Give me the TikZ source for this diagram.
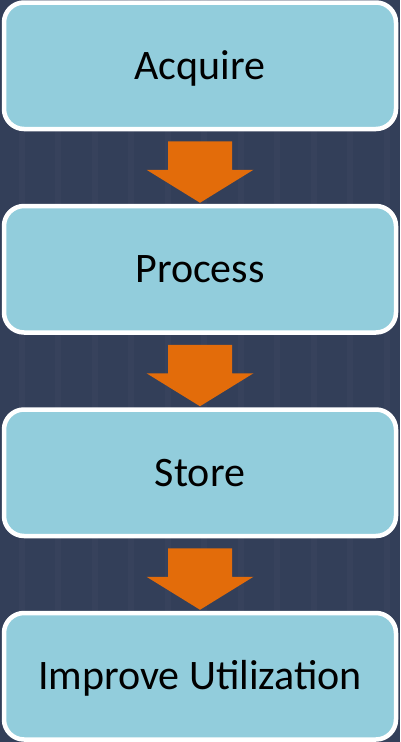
\documentclass[tikz,border=0pt]{standalone}
\usepackage{fontspec}
\setmainfont{Carlito}
\usetikzlibrary{calc}
\definecolor{bgnavy}{HTML}{333F59}
\definecolor{boxblue}{HTML}{92CDDC}
\definecolor{arroworange}{HTML}{E36C0A}
\tikzset{
  stagebox/.style={draw=white, line width=4.5pt, fill=boxblue, rounded corners=20pt,
    minimum width=392pt, minimum height=126.5pt, inner sep=0pt,
    text height=37pt, text depth=10pt,
    font=\fontsize{42}{50}\selectfont, text=black},
  flowarrow/.style={fill=arroworange, draw=none}
}
\begin{document}
\begin{tikzpicture}[x=1pt,y=-1pt]
\fill[bgnavy] (0,0) rectangle (400,742);
\useasboundingbox (0,0) rectangle (400,742);
\foreach \xx in {22,58,95,131,168,204,241,277,314,350,387}{
  \draw[white,opacity=0.018,line width=6pt] (\xx,0) -- (\xx,742);
}
\node[stagebox] (a) at (200,65.75) {Acquire};
\node[stagebox] (b) at (200,269.25) {Process};
\node[stagebox] (c) at (200,472.75) {Store};
\node[stagebox] (d) at (200,676.25) {Improve Utilization};
\foreach \u/\v in {a/b,b/c,c/d}{
  \coordinate (s\u) at ($(\u.south)+(0,10)$);
  \coordinate (t\u) at ($(\v.north)+(0,-1)$);
  \fill[flowarrow] ($(s\u)+(-32,0)$) -- ($(s\u)+(32,0)$) -- ($(t\u)+(32,-33)$) -- ($(t\u)+(53.5,-33)$)
    -- (t\u) -- ($(t\u)+(-53.5,-33)$) -- ($(t\u)+(-32,-33)$) -- cycle;
}
\end{tikzpicture}
\end{document}
